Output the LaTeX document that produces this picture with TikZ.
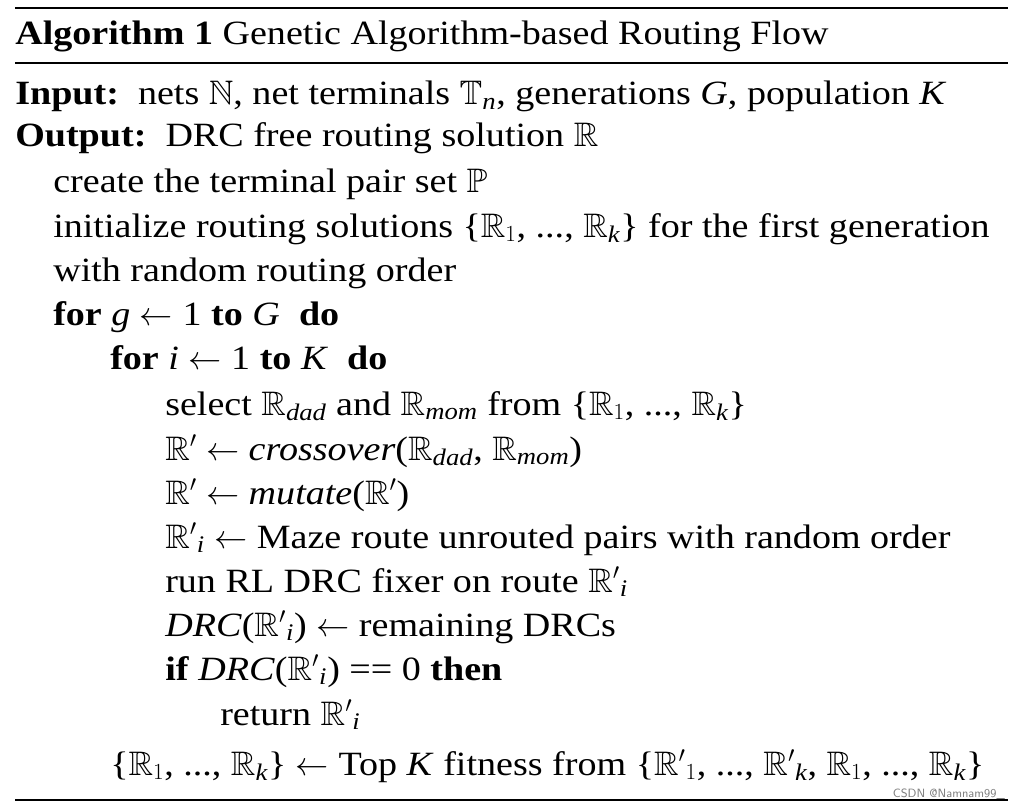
\documentclass[tikz,border=0pt]{standalone}
\usepackage{amsmath,amssymb}
\usepackage{fontspec}
\setmainfont{Liberation Serif}[FakeStretch=1.12]
\newcommand{\vi}[1]{\textit{#1}}
\newcommand{\sbi}[1]{_{\text{\itshape #1}}}
\begin{document}
\begin{tikzpicture}[x=0.75pt,y=-0.75pt,
  ln/.style={anchor=base west,inner sep=0pt,font=\fontsize{25.5}{30}\selectfont},
  rule/.style={line width=1.2pt}]
\useasboundingbox (0,0) rectangle (1019,809);
\fill[white] (0,0) rectangle (1019,809);
\draw[rule] (15,8) -- (1008,8);
\draw[line width=0.8pt] (15,63) -- (1008,63);
\draw[line width=0.8pt] (15,800) -- (1008,800);
\node[ln] (t) at (15,45) {\textbf{Algorithm 1} Genetic Algorithm-based Routing Flow};
\node[ln] (a) at (15,105) {\textbf{Input:}\ \ nets $\mathbb{N}$, net terminals $\mathbb{T}\sbi{n}$, generations \vi{G}, population \vi{K}};
\node[ln] (b) at (15,147) {\textbf{Output:}\ \ DRC free routing solution $\mathbb{R}$};
\node[ln] (c) at (53,193) {create the terminal pair set $\mathbb{P}$};
\node[ln] (d) at (53,237) {initialize routing solutions \{$\mathbb{R}_1$, ..., $\mathbb{R}\sbi{k}$\} for the first generation};
\node[ln] (e) at (53,281) {with random routing order};
\node[ln] (f) at (53,325) {\textbf{for} \vi{g} $\leftarrow$ 1 \textbf{to} \vi{G}\ \ \textbf{do}};
\node[ln] (g) at (110,369) {\textbf{for} \vi{i} $\leftarrow$ 1 \textbf{to} \vi{K}\ \ \textbf{do}};
\node[ln] (h) at (165,415) {select $\mathbb{R}\sbi{dad}$ and $\mathbb{R}\sbi{mom}$ from \{$\mathbb{R}_1$, ..., $\mathbb{R}\sbi{k}$\}};
\node[ln] (i) at (165,460) {$\mathbb{R}'\leftarrow$ \vi{crossover}($\mathbb{R}\sbi{dad}$, $\mathbb{R}\sbi{mom}$)};
\node[ln] (j) at (165,504) {$\mathbb{R}'\leftarrow$ \vi{mutate}($\mathbb{R}'$)};
\node[ln] (k) at (165,548) {${\mathbb{R}'}\sbi{i}\leftarrow$ Maze route unrouted pairs with random order};
\node[ln] (l) at (165,592) {run RL DRC fixer on route ${\mathbb{R}'}\sbi{i}$};
\node[ln] (m) at (165,636) {\vi{DRC}(${\mathbb{R}'}\sbi{i}$) $\leftarrow$ remaining DRCs};
\node[ln] (n) at (165,680) {\textbf{if} \vi{DRC}(${\mathbb{R}'}\sbi{i}$) == 0 \textbf{then}};
\node[ln] (o) at (220,725) {return ${\mathbb{R}'}\sbi{i}$};
\node[ln] (p) at (110,775) {\{$\mathbb{R}_1$, ..., $\mathbb{R}\sbi{k}$\} $\leftarrow$ Top \vi{K} fitness from \{${\mathbb{R}'}_1$, ..., ${\mathbb{R}'}\sbi{k}$, $\mathbb{R}_1$, ..., $\mathbb{R}\sbi{k}$\}};
\node[anchor=base east,inner sep=0pt,font=\sffamily\fontsize{9}{10}\selectfont,text=gray] (w) at (1005,797) {CSDN @Namnam99\_};
\end{tikzpicture}
\end{document}
